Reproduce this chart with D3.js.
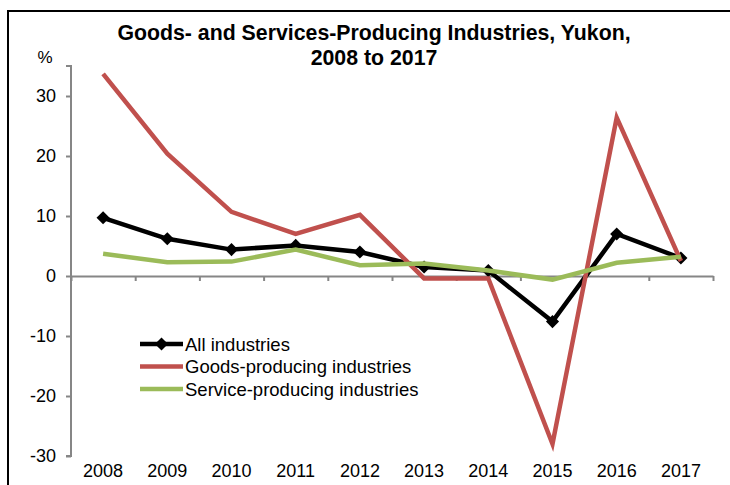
<!DOCTYPE html>
<html>
<head>
<meta charset="utf-8">
<script src="https://cdn.jsdelivr.net/npm/d3@7"></script>
<style>
  body { margin: 0; background: #fff; }
  text { font-family: "Liberation Sans", Arial, sans-serif; fill: #000; }
</style>
</head>
<body>
<div id="chart"></div>
<script>
const years = ['2008', '2009', '2010', '2011', '2012', '2013', '2014', '2015', '2016', '2017'];
const allIndustries = [9.7, 6.2, 4.4, 5.1, 4.0, 1.5, 0.9, -7.6, 7.0, 3.0];
const goodsProducing = [33.7, 20.4, 10.7, 7.0, 10.2, -0.4, -0.4, -28.0, 26.4, 2.5];
const serviceProducing = [3.7, 2.3, 2.4, 4.4, 1.8, 2.1, 0.9, -0.6, 2.2, 3.2];
const yTicks = [-30, -20, -10, 0, 10, 20, 30];
const titleLines = ['Goods- and Services-Producing Industries, Yukon,', '2008 to 2017'];

const series = [
    {name: 'All industries', values: allIndustries, color: '#000000', marker: true},
    {name: 'Goods-producing industries', values: goodsProducing, color: '#C0504D', marker: false},
    {name: 'Service-producing industries', values: serviceProducing, color: '#9BBB59', marker: false},
];

const width = 730;
const height = 485;

const svg = d3.select('#chart')
.append('svg')
.attr('width', width)
.attr('height', height);

// outer frame, cut off at the right and bottom like the source
svg.append('rect')
.attr('x', 8)
.attr('y', 11)
.attr('width', 760)
.attr('height', 520)
.attr('fill', 'none')
.attr('stroke', '#000')
.attr('stroke-width', 2);

const plot = {left: 71, right: 713, top: 66, bottom: 456};

const scaleX = d3.scaleBand()
.domain(years)
.range([plot.left, plot.right]);

const scaleY = d3.scaleLinear()
.domain([-30, 35])
.range([plot.bottom, plot.top]);

// boundaries between categories, for the tick marks
const scaleEdge = d3.scaleLinear()
.domain([0, years.length])
.range([plot.left, plot.right]);

// title
svg.append('g')
.selectAll('text')
.data(titleLines)
.join('text')
.attr('x', 374)
.attr('y', (d, i) => 40 + i * 25)
.attr('text-anchor', 'middle')
.style('font-size', '21.3px')
.style('font-weight', 'bold')
.text(d => d);

svg.append('text')
.attr('x', 45)
.attr('y', 63)
.attr('text-anchor', 'middle')
.style('font-size', '17px')
.text('%');

// y axis, plain hyphen for negatives as in the source
const axisY = d3.axisLeft(scaleY)
.tickValues(yTicks)
.tickFormat(d => String(d))
.tickSize(5)
.tickPadding(10);

const gY = svg.append('g')
.attr('transform', `translate(${plot.left}, 0)`)
.call(axisY);

gY.select('.domain')
.attr('stroke', '#868686')
.attr('stroke-width', 2)
.attr('d', `M-5,${plot.top}H0V${plot.bottom}H-5`);

gY.selectAll('.tick line')
.attr('stroke', '#868686')
.attr('stroke-width', 2);

gY.selectAll('.tick text')
.style('font-size', '18px')
.style('font-family', '"Liberation Sans", Arial, sans-serif')
.attr('fill', '#000');

// x axis at zero, ticks between categories
const axisX = d3.axisBottom(scaleEdge)
.tickValues(d3.range(years.length + 1))
.tickFormat('')
.tickSizeInner(5)
.tickSizeOuter(0);

const gX = svg.append('g')
.attr('transform', `translate(0, ${scaleY(0)})`)
.call(axisX);

gX.select('.domain')
.attr('stroke', '#868686')
.attr('stroke-width', 2);

gX.selectAll('.tick line')
.attr('stroke', '#868686')
.attr('stroke-width', 2);

// year labels at the bottom
svg.append('g')
.selectAll('text')
.data(years)
.join('text')
.attr('x', d => scaleX(d) + scaleX.bandwidth() / 2)
.attr('y', 477)
.attr('text-anchor', 'middle')
.style('font-size', '18px')
.text(d => d);

const line = d3.line()
.x((d, i) => scaleX(years[i]) + scaleX.bandwidth() / 2)
.y(d => scaleY(d));

const diamond = d3.symbol().type(d3.symbolDiamond2).size(110);

series.forEach((s) => {
    svg.append('path')
    .attr('fill', 'none')
    .attr('stroke', s.color)
    .attr('stroke-width', 4.5)
    .attr('stroke-linejoin', 'miter')
    .attr('d', line(s.values));

    if (s.marker) {
        svg.append('g')
        .selectAll('path')
        .data(s.values)
        .join('path')
        .attr('transform', (d, i) => `translate(${scaleX(years[i]) + scaleX.bandwidth() / 2}, ${scaleY(d)})`)
        .attr('d', diamond)
        .attr('fill', s.color);
    }
});

// legend
const legend = svg.append('g')
.selectAll('g')
.data(series)
.join('g')
.attr('transform', (d, i) => `translate(140, ${344 + i * 22.5})`);

legend.append('line')
.attr('x1', 0)
.attr('x2', 43)
.attr('stroke', d => d.color)
.attr('stroke-width', 4.5);

legend.filter(d => d.marker)
.append('path')
.attr('transform', 'translate(21.5, 0)')
.attr('d', diamond)
.attr('fill', d => d.color);

legend.append('text')
.attr('x', 45)
.attr('y', 6.5)
.style('font-size', '18.5px')
.text(d => d.name);
</script>
</body>
</html>
